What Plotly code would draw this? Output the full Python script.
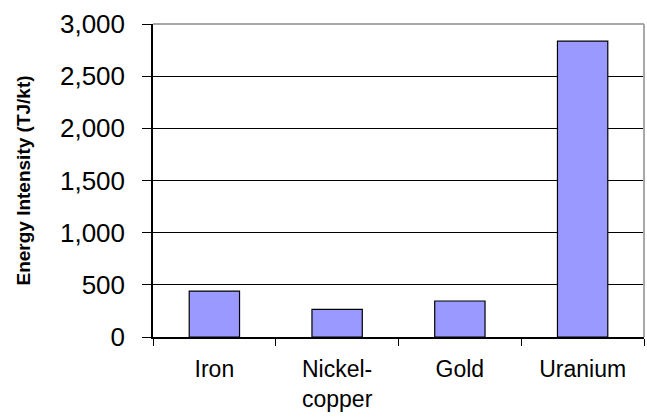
import plotly.graph_objects as go

categories = ["Iron", "Nickel-<br>copper", "Gold", "Uranium"]
values = [440, 265, 345, 2835]
y_ticks = [0, 500, 1000, 1500, 2000, 2500, 3000]

font_family = "Liberation Sans, Arial, sans-serif"

fig = go.Figure()
fig.add_trace(go.Bar(
    x=categories, y=values,
    marker=dict(color="#9999FF", line=dict(color="black", width=1.2)),
    width=0.41,
))

fig.update_layout(
    width=647, height=417,
    margin=dict(l=153, r=3, t=24, b=80, autoexpand=False),
    paper_bgcolor="white", plot_bgcolor="white",
    font=dict(family=font_family, color="black"),
    showlegend=False,
    shapes=[
        dict(type="line", xref="paper", yref="paper", x0=0, x1=1, y0=1, y1=1,
             line=dict(color="#a8a8a8", width=2), layer="above"),
        dict(type="line", xref="paper", yref="paper", x0=1, x1=1, y0=0, y1=1,
             line=dict(color="#a8a8a8", width=2), layer="above"),
    ],
)

fig.update_xaxes(
    type="category", showline=True, linecolor="black", linewidth=1.5,
    ticks="outside", tickson="boundaries", ticklen=7, tickcolor="black",
    showgrid=False, tickfont=dict(size=23, family=font_family),
    ticklabelstandoff=11, automargin=False,
)
fig.update_yaxes(
    range=[0, 3000], tickvals=y_ticks, tickformat=",",
    showline=True, linecolor="black", linewidth=1.5,
    ticks="outside", ticklen=9, tickcolor="black",
    showgrid=True, gridcolor="black", gridwidth=1.2, zeroline=False,
    tickfont=dict(size=26, family=font_family),
    ticklabelstandoff=12, automargin=False,
    title=dict(text="<b>Energy Intensity (TJ/kt)</b>",
               font=dict(size=19, family=font_family), standoff=24),
)

fig.write_html("out.html")
